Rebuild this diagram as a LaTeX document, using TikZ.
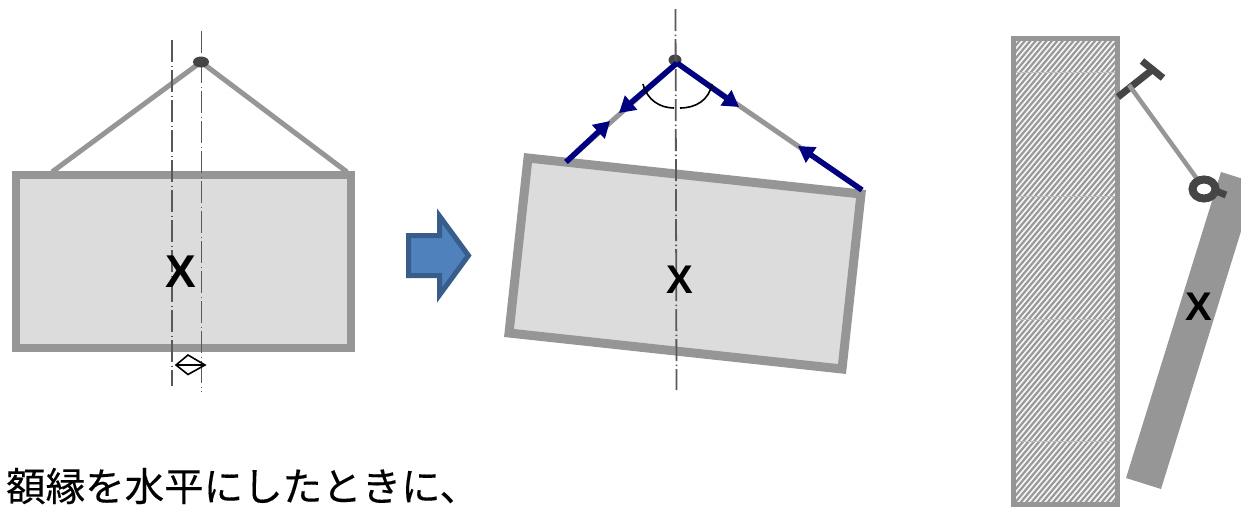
\documentclass[tikz,border=0pt]{standalone}
\usepackage{fontspec}
\setmainfont{Liberation Sans}
\newfontfamily\cjk[FakeBold=0.25]{Noto Sans CJK JP}
\usetikzlibrary{arrows.meta,shapes.geometric}
\definecolor{framegray}{HTML}{969696}
\definecolor{panelgray}{HTML}{DCDCDC}
\definecolor{axisgray}{HTML}{595959}
\definecolor{hookdark}{HTML}{454545}
\definecolor{navyforce}{HTML}{000080}
\definecolor{bluefill}{HTML}{4F81BD}
\definecolor{blueedge}{HTML}{385D8A}
\tikzset{
  x=1pt,y=-1pt,
  frame/.style={draw=framegray,line width=8pt,fill=panelgray,miter limit=10},
  wire/.style={draw=framegray,line width=5pt},
  axisline/.style={draw=axisgray,line width=1.8pt,dash pattern=on 22pt off 3.5pt on 1.5pt off 3pt},
  force/.style={draw=navyforce,line width=5.5pt,-{Triangle[length=16pt,width=18pt]}},
  pivot/.style={ellipse,fill=hookdark,inner sep=0pt},
  lbl/.style={inner sep=0pt,text=black,font=\bfseries},
  hook/.style={draw=hookdark,line width=7pt},
  thinblack/.style={draw=black,line width=1.6pt},
}
\begin{document}
\begin{tikzpicture}
\useasboundingbox (0,0) rectangle (1241,507);
% ---- left frame
\coordinate (LA1) at (172,40); \coordinate (LA2) at (172,386);
\coordinate (LB1) at (201.5,31); \coordinate (LB2) at (201.5,392);
\coordinate (lwl) at (52,172); \coordinate (lwr) at (347,172);
\coordinate (lp) at (201,62);
\draw[wire] (lp) -- (lwl);
\draw[wire] (lp) -- (lwr);
\draw[frame] (16,175) rectangle (351,348);
\draw[axisline] (LA1) -- (LA2);
\draw[axisline] (LB1) -- (LB2);
\node[pivot,minimum width=16pt,minimum height=11pt] (lpiv) at (lp) {};
\node[lbl] (lx) at (181,272) {\fontsize{46}{46}\selectfont X};
\coordinate (dl) at (176,365); \coordinate (dt) at (188,355); \coordinate (dr) at (205,365); \coordinate (db) at (188,374.5);
\draw[thinblack] (dl) -- (dt) -- (dr) -- (db) -- cycle (dl) -- (dr);
% ---- block arrow
\draw[draw=blueedge,fill=bluefill,line width=5pt,miter limit=10]
  (408.5,235.5) -- (439.5,235.5) -- (439.5,216) -- (468.5,255.5) -- (439.5,295) -- (439.5,275.5) -- (408.5,275.5) -- cycle;
% ---- middle frame
\coordinate (MA1) at (675.5,9); \coordinate (MA2) at (676.5,390);
\coordinate (mwl) at (566,162); \coordinate (mwr) at (862,190);
\coordinate (mtop) at (677,63);
\node[pivot,minimum width=13pt,minimum height=11pt] (mpiv) at (675,60) {};
\draw[wire] (mtop) -- (mwl);
\draw[wire] (mtop) -- (mwr);
\draw[frame,line width=9pt] (528,158) -- (861,194) -- (842,369) -- (509,333) -- cycle;
\draw[axisline] (MA1) -- (MA2);
\node[lbl] (mx) at (680,280) {\fontsize{40}{40}\selectfont X};
\draw[force] (mtop) -- (619,113);
\draw[force] (mtop) -- (739,107);
\draw[force] (mwl) -- (610,121);
\draw[force] (mwr) -- (798,146);
\draw[thinblack] (643,84) .. controls (647,100) and (660,108) .. (674,108);
\draw[thinblack] (680,108) .. controls (696,108) and (709,100) .. (712,84);
% ---- wall
\begin{scope}
  \clip (1013.5,38.5) rectangle (1117.5,504.5);
  \fill[black!3] (1013.5,38.5) rectangle (1117.5,504.5);
  \foreach \k in {0,...,100} {
    \draw[draw=black!40,line width=2.2pt] (590+\k*5.4,520) -- ++(420,-500);
  }
  \foreach \yy in {72,196,319,441} \draw[draw=black!25,line width=0.5pt] (1013.5,\yy) -- (1117.5,\yy);
\end{scope}
\draw[draw=framegray,line width=5.5pt] (1013.5,38.5) rectangle (1117.5,504.5);
% ---- plate
\path[fill=framegray] (1221,172) -- (1256,183) -- (1161,489) -- (1126,478) -- cycle;
\node[lbl] (rx) at (1199,307) {\fontsize{40}{40}\selectfont X};
% ---- hook and wire
\draw[hook] (1118,97) -- (1152,70);
\draw[hook] (1142,61) -- (1163,78);
\draw[draw=framegray,line width=4.5pt] (1129,85) -- (1200,183);
\draw[hook] (1216,191) -- (1226,195);
\draw[draw=hookdark,line width=8pt] (1204,189) ellipse [x radius=11.5,y radius=9.5];
% ---- caption
\node[inner sep=0pt,anchor=west] (cap) at (6,486) {\fontsize{39.5}{39.5}\selectfont\cjk 額縁を水平にしたときに、};
\end{tikzpicture}
\end{document}
